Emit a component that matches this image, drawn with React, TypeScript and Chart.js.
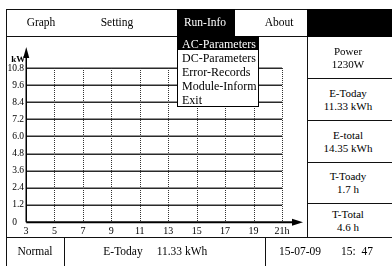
import React, { useEffect, useRef } from "react";
import { Chart, registerables } from "chart.js";

Chart.register(...registerables);

// ---- data ----
const xTicks = [3, 5, 7, 9, 11, 13, 15, 17, 19, 21];
const yTicks = [0, 1.2, 2.4, 3.6, 4.8, 6.0, 7.2, 8.4, 9.6, 10.8];
const powerSeries: { x: number; y: number }[] = [];
const menuItems = ["Graph", "Setting", "Run-Info", "About"];
const dropdownItems = ["AC-Parameters", "DC-Parameters", "Error-Records", "Module-Inform", "Exit"];
const panelLabels = ["Power", "E-Today", "E-total", "T-Toady", "T-Total"];
const panelValues = ["1230W", "11.33 kWh", "14.35 kWh", "1.7 h", "4.6 h"];
const statusTexts = ["Normal", "E-Today", "11.33 kWh", "15-07-09", "15:  47"];

const FONT = "'Liberation Serif', 'Times New Roman', serif";

const axesPlugin = {
  id: "axesPlugin",
  beforeDatasetsDraw(chart: any) {
    const { ctx, scales } = chart;
    const xs = scales.x;
    const ys = scales.y;
    const x0 = xs.getPixelForValue(xTicks[0]);
    const x1 = xs.getPixelForValue(xTicks[xTicks.length - 1]);
    const y0 = ys.getPixelForValue(yTicks[0]);
    const y1 = ys.getPixelForValue(yTicks[yTicks.length - 1]);
    ctx.save();
    // horizontal grid
    ctx.strokeStyle = "#2a2a2a";
    ctx.lineWidth = 1.5;
    yTicks.slice(1).forEach((v) => {
      const y = Math.round(ys.getPixelForValue(v)) + 0.25;
      ctx.beginPath();
      ctx.moveTo(x0, y);
      ctx.lineTo(x1, y);
      ctx.stroke();
    });
    // vertical dotted grid
    ctx.strokeStyle = "#333";
    ctx.lineWidth = 1;
    ctx.setLineDash([1, 1]);
    xTicks.slice(1).forEach((v) => {
      const x = Math.round(xs.getPixelForValue(v)) + 0.5;
      ctx.beginPath();
      ctx.moveTo(x, y1);
      ctx.lineTo(x, y0);
      ctx.stroke();
    });
    ctx.setLineDash([]);
    // axes
    ctx.strokeStyle = "#000";
    ctx.fillStyle = "#000";
    ctx.lineWidth = 1.5;
    const ax = Math.round(x0) + 0.25;
    const ay = Math.round(y0) + 0.25;
    ctx.beginPath();
    ctx.moveTo(ax, ay);
    ctx.lineTo(ax, y1 - 12);
    ctx.stroke();
    ctx.beginPath();
    ctx.moveTo(ax, y1 - 21);
    ctx.lineTo(ax - 3, y1 - 10);
    ctx.lineTo(ax + 3, y1 - 10);
    ctx.closePath();
    ctx.fill();
    ctx.lineWidth = 2;
    ctx.beginPath();
    ctx.moveTo(ax, ay);
    ctx.lineTo(x1 + 12, ay);
    ctx.stroke();
    ctx.beginPath();
    ctx.moveTo(x1 + 21, ay);
    ctx.lineTo(x1 + 10, ay - 3.5);
    ctx.lineTo(x1 + 10, ay + 3.5);
    ctx.closePath();
    ctx.fill();
    // unit label
    ctx.font = "bold 9px " + FONT;
    ctx.textAlign = "right";
    ctx.textBaseline = "middle";
    ctx.fillText("kW", ax - 1, y1 - 8);
    ctx.restore();
  },
};

function Txt(props: { x: number; y: number; color?: string; size?: number; align?: "center" | "left"; children: any }) {
  const { x, y, color = "#000", size = 11, align = "center", children } = props;
  return (
    <div
      style={{
        position: "absolute",
        left: x,
        top: y,
        transform: align === "center" ? "translate(-50%, -50%)" : "translate(0, -50%)",
        color,
        fontSize: size,
        fontFamily: FONT,
        whiteSpace: "pre",
        lineHeight: 1,
      }}
    >
      {children}
    </div>
  );
}

function Line(props: { x: number; y: number; w: number; h: number; c?: string }) {
  return (
    <div
      style={{
        position: "absolute",
        left: props.x,
        top: props.y,
        width: props.w,
        height: props.h,
        background: props.c || "#111",
      }}
    />
  );
}

export default function App() {
  const canvasRef = useRef<HTMLCanvasElement | null>(null);

  useEffect(() => {
    if (!canvasRef.current) return;
    const chart = new Chart(canvasRef.current, {
      type: "line",
      data: {
        datasets: [
          {
            label: "Power",
            data: powerSeries,
            borderColor: "#000",
            pointRadius: 0,
          },
        ],
      },
      options: {
        responsive: false,
        animation: false,
        layout: { padding: { top: 31, right: 25, left: 0, bottom: 0 } },
        plugins: { legend: { display: false }, tooltip: { enabled: false } },
        scales: {
          x: {
            type: "linear",
            min: xTicks[0],
            max: xTicks[xTicks.length - 1],
            afterBuildTicks: (s: any) => {
              s.ticks = xTicks.map((v) => ({ value: v }));
            },
            afterFit: (s: any) => {
              s.height = 15;
            },
            grid: { display: false, drawTicks: false },
            border: { display: false },
            ticks: {
              autoSkip: false,
              maxRotation: 0,
              padding: 3,
              color: "#000",
              font: { family: FONT, size: 10 },
              callback: (v: any) => (v === xTicks[xTicks.length - 1] ? v + "h" : String(v)),
            },
          },
          y: {
            type: "linear",
            min: yTicks[0],
            max: yTicks[yTicks.length - 1],
            afterBuildTicks: (s: any) => {
              s.ticks = yTicks.map((v) => ({ value: v }));
            },
            afterFit: (s: any) => {
              s.width = 20;
            },
            grid: { display: false, drawTicks: false },
            border: { display: false },
            ticks: {
              padding: 2,
              color: "#000",
              font: { family: FONT, size: 9.5 },
              callback: (v: any) => (v === 0 ? "0   " : Number(v).toFixed(1)),
            },
          },
        },
      },
      plugins: [axesPlugin],
    } as any);
    return () => chart.destroy();
  }, []);

  const menuX = [41, 117, 205, 279];
  const cellLines = [37, 78, 120, 162, 203, 237];
  const statusX = [35, 123, 182, 300, 357];

  return (
    <div
      style={{
        position: "absolute",
        left: 0,
        top: 0,
        width: 392,
        height: 266,
        background: "#fff",
        overflow: "hidden",
        fontFamily: FONT,
      }}
    >
      {/* chart */}
      <canvas
        ref={canvasRef}
        width={301}
        height={200}
        style={{ position: "absolute", left: 6, top: 37, width: 301, height: 200 }}
      />

      {/* frame */}
      <Line x={6} y={9} w={386} h={1} />
      <Line x={6} y={9} w={1} h={257} />
      <Line x={6} y={36} w={386} h={1} />
      <div style={{ position: "absolute", left: 177, top: 9, width: 58, height: 28, background: "#000" }} />
      <div style={{ position: "absolute", left: 307, top: 9, width: 85, height: 28, background: "#000" }} />
      {menuItems.map((m, i) => (
        <Txt key={m} x={menuX[i]} y={23} size={11.5} color={m === "Run-Info" ? "#fff" : "#000"}>
          {m}
        </Txt>
      ))}

      {/* right panel */}
      <Line x={307} y={37} w={1} h={200} />
      {cellLines.slice(1, -1).map((y) => (
        <Line key={y} x={307} y={y} w={85} h={1} />
      ))}
      {panelLabels.map((l, i) => {
        const cy = (cellLines[i] + cellLines[i + 1]) / 2;
        return (
          <React.Fragment key={l}>
            <Txt x={348} y={cy - 6.5} size={11}>
              {l}
            </Txt>
            <Txt x={348} y={cy + 6.5} size={11}>
              {panelValues[i]}
            </Txt>
          </React.Fragment>
        );
      })}

      {/* status bar */}
      <Line x={6} y={237} w={386} h={1} />
      <Line x={64} y={237} w={1} h={29} />
      <Line x={265} y={237} w={1} h={29} />
      {statusTexts.map((s, i) => (
        <Txt key={i} x={statusX[i]} y={252} size={11.5}>
          {s}
        </Txt>
      ))}

      {/* dropdown */}
      <div
        style={{
          position: "absolute",
          left: 177,
          top: 36,
          width: 80,
          height: 69,
          background: "#fff",
          border: "1px solid #000",
        }}
      />
      <div style={{ position: "absolute", left: 178, top: 37, width: 80, height: 13, background: "#000" }} />
      {dropdownItems.map((d, i) => (
        <Txt key={d} x={182} y={44 + i * 14} size={12} align="left" color={i === 0 ? "#fff" : "#000"}>
          {d}
        </Txt>
      ))}
    </div>
  );
}
